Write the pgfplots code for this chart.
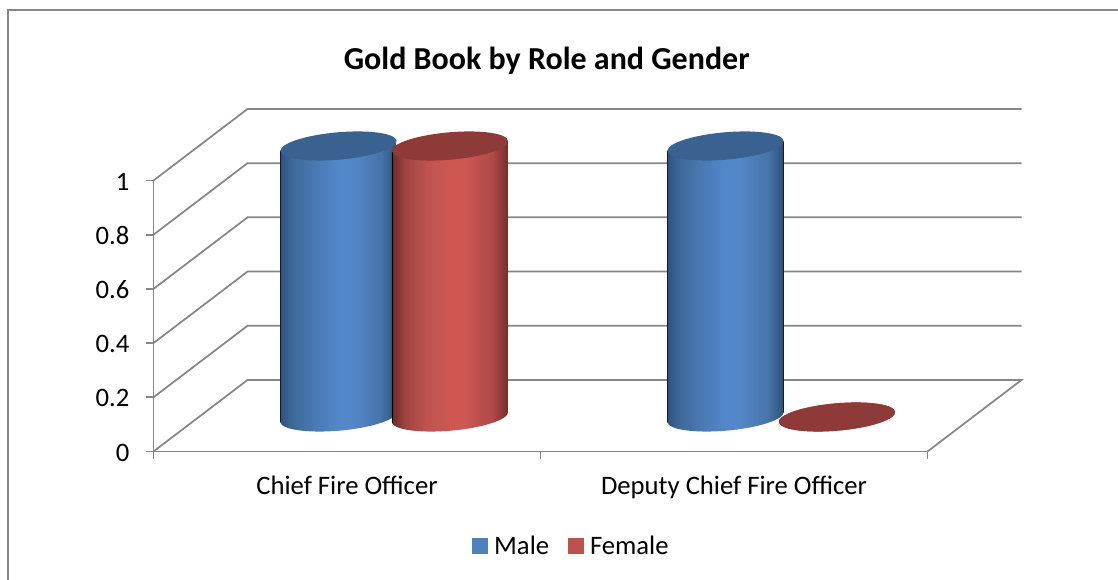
\documentclass[border=0pt]{standalone}
\usepackage{fontspec}
\setmainfont{Carlito}
\usepackage{pgfplots}
\pgfplotsset{compat=1.18}

\newdimen\px
\px=0.75pt

\definecolor{gridgray}{HTML}{868686}
\definecolor{legblue}{HTML}{4F81BD}
\definecolor{legred}{HTML}{C0504D}
\definecolor{topblue}{HTML}{3A6290}
\definecolor{topred}{HTML}{8E3A38}
\definecolor{blA}{HTML}{2F5180}
\definecolor{blB}{HTML}{3E6898}
\definecolor{blC}{HTML}{4A7AB4}
\definecolor{blD}{HTML}{5487CA}
\definecolor{blE}{HTML}{4774A9}
\definecolor{blF}{HTML}{2E4F78}
\definecolor{rdA}{HTML}{6F2A27}
\definecolor{rdB}{HTML}{A04542}
\definecolor{rdC}{HTML}{BE5350}
\definecolor{rdD}{HTML}{CE5752}
\definecolor{rdE}{HTML}{B04A48}
\definecolor{rdF}{HTML}{752D2B}

% horizontal shadings: the path box maps onto 25bp..75bp
\pgfdeclarehorizontalshading{cylblue}{100bp}{
  color(0bp)=(blA); color(25bp)=(blA); color(30bp)=(blB);
  color(40bp)=(blC); color(50bp)=(blD); color(56bp)=(blD);
  color(68bp)=(blE); color(75bp)=(blF); color(100bp)=(blF)}
\pgfdeclarehorizontalshading{cylred}{100bp}{
  color(0bp)=(rdA); color(25bp)=(rdA); color(31bp)=(rdB);
  color(40bp)=(rdC); color(50bp)=(rdD); color(56bp)=(rdD);
  color(68bp)=(rdE); color(75bp)=(rdF); color(100bp)=(rdF)}

% tilted end cap of a cylinder, centre shifted down by #1
\newcommand\cylcap[1]{\pgfpathellipse{\pgfpoint{0pt}{-#1}}{\pgfpoint{58.08\px}{5.08\px}}{\pgfpoint{-1.19\px}{13.65\px}}}
% cylinder drawn downwards from the data point, height from the y value
\newcommand\cylmark[3]{\pgfdeclareplotmark{#1}{%
  \pgfmathsetlengthmacro\cylH{\vy*271*\px}%
  \begin{pgfscope}
    \pgfpathmoveto{\pgfpoint{-58.2\px}{-4.7\px}}
    \pgfpathlineto{\pgfpoint{-58.2\px}{-4.7\px-\cylH}}
    \pgfpathlineto{\pgfpoint{58.2\px}{4.7\px-\cylH}}
    \pgfpathlineto{\pgfpoint{58.2\px}{4.7\px}}
    \pgfpathclose
    \cylcap{\cylH}
    \pgfusepath{clip}
    \shade[shading=#2] (-58.2\px,-\cylH-20\px) rectangle (58.2\px,20\px);
  \end{pgfscope}
  \begin{pgfscope}
    \pgfsetfillcolor{#3}
    \cylcap{0pt}
    \pgfusepath{fill}
  \end{pgfscope}
}}
\cylmark{cylm}{cylblue}{topblue}
\cylmark{cylf}{cylred}{topred}

\begin{document}
\begin{tikzpicture}
\path[use as bounding box] (0,0) rectangle (1118\px,580\px);
\draw[gridgray,line width=1.3pt] (8\px,0) -- (8\px,570\px) -- (1118\px,570\px);
\begin{axis}[
    at={(153.5\px,128.5\px)}, anchor=south west,
    scale only axis, width=774\px, height=271\px,
    clip=false,
    xmin=-0.5, xmax=1.5, ymin=0, ymax=1,
    axis x line*=bottom, axis y line*=left,
    axis line style={gridgray,line width=1.3pt,-},
    tick align=outside, major tick length=7.5\px,
    tick style={gridgray,line width=1.3pt},
    xtick={-0.5,0.5,1.5},
    x tick label as interval,
    xticklabels={Chief Fire Officer,Deputy Chief Fire Officer},
    ytick={0,0.2,0.4,0.6,0.8,1},
    yticklabels={0,0.2,0.4,0.6,0.8,1},
    tick label style={font=\fontsize{20}{22}\selectfont,black},
    xticklabel style={yshift=-12\px},
    yticklabel style={xshift=-12\px,yshift=-1\px},
    title={Gold Book by Role and Gender},
    title style={at={(0.508,1.449)},anchor=center,yshift=-10\px,font=\fontsize{24}{26}\selectfont\bfseries},
    legend style={draw=none,at={(0.5402,-0.349)},anchor=center,legend columns=2,
      font=\fontsize{20}{22}\selectfont,
      /tikz/every odd column/.append style={column sep=4\px},
      /tikz/every even column/.append style={column sep=16\px}},
    legend image code/.code={\fill[#1] (0pt,-7.5\px) rectangle (15\px,7.5\px);},
]
  \addlegendimage{legblue}
  \addlegendimage{legred}
  % walls and floor
  \addplot[gridgray,line width=1.3pt,forget plot] coordinates {(-0.5,0) (-0.257,0.264) (1.743,0.264) (1.5,0)};
  \addplot[gridgray,line width=1.3pt,forget plot] coordinates {(-0.5,0.2) (-0.257,0.464) (1.743,0.464)};
  \addplot[gridgray,line width=1.3pt,forget plot] coordinates {(-0.5,0.4) (-0.257,0.664) (1.743,0.664)};
  \addplot[gridgray,line width=1.3pt,forget plot] coordinates {(-0.5,0.6) (-0.257,0.864) (1.743,0.864)};
  \addplot[gridgray,line width=1.3pt,forget plot] coordinates {(-0.5,0.8) (-0.257,1.064) (1.743,1.064)};
  \addplot[gridgray,line width=1.3pt,forget plot] coordinates {(-0.5,1) (-0.257,1.264) (1.743,1.264)};
  % cylinders
  \addplot[only marks,mark=cylm,forget plot,visualization depends on={rawy \as \vy},
    mark options={xshift=-8.5\px,yshift=34.5\px}] coordinates {(0,1) (1,1)};
  \addplot[only marks,mark=cylf,forget plot,visualization depends on={rawy \as \vy},
    mark options={xshift=103\px,yshift=34.5\px}] coordinates {(0,1) (1,0)};
  \legend{Male,Female}
\end{axis}
\end{tikzpicture}
\end{document}
